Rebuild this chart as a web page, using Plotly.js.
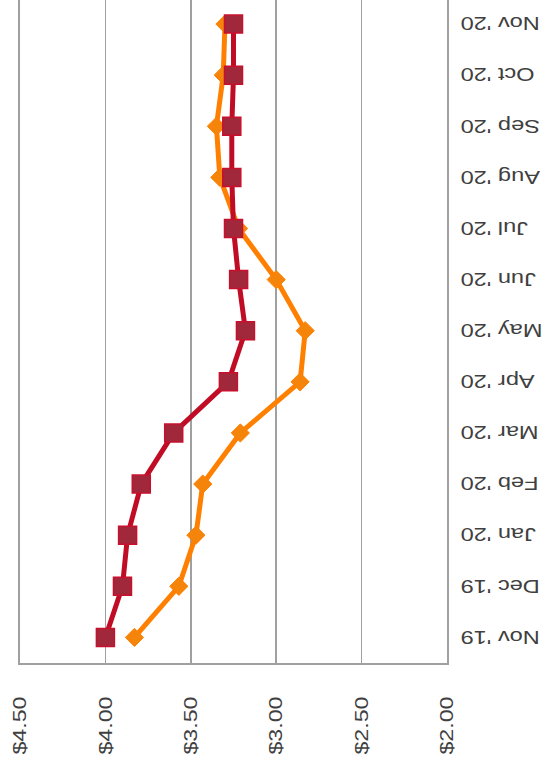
<!DOCTYPE html>
<html>
<head>
<meta charset="utf-8">
<script src="https://cdn.plot.ly/plotly-3.0.1.min.js"></script>
<style>
html, body { margin: 0; padding: 0; background: #fff; }
#chart { width: 543px; height: 765px; }
</style>
</head>
<body>
<div id="chart"></div>
<script>
const months = ["Nov '19", "Dec '19", "Jan '20", "Feb '20", "Mar '20", "Apr '20", "May '20", "Jun '20", "Jul '20", "Aug '20", "Sep '20", "Oct '20", "Nov '20"];
const orangeSeries = [3.83, 3.57, 3.47, 3.43, 3.21, 2.86, 2.83, 3.00, 3.22, 3.33, 3.35, 3.31, 3.30];
const redSeries = [4.00, 3.90, 3.87, 3.79, 3.60, 3.28, 3.18, 3.22, 3.25, 3.26, 3.26, 3.25, 3.25];
const priceTicks = [4.5, 4.0, 3.5, 3.0, 2.5, 2.0];
const priceTickLabels = ["$4.50", "$4.00", "$3.50", "$3.00", "$2.50", "$2.00"];

const traces = [
  {
    type: 'scatter', mode: 'lines+markers',
    x: orangeSeries, y: months,
    line: { color: '#FF8000', width: 5 },
    marker: { symbol: 'diamond', size: 14, color: '#F5850A', line: { color: '#FF8000', width: 1 } },
    showlegend: false, cliponaxis: false
  },
  {
    type: 'scatter', mode: 'lines+markers',
    x: redSeries, y: months,
    line: { color: '#C00D25', width: 5 },
    marker: { symbol: 'square', size: 18, color: '#A0283A', line: { color: '#C8102E', width: 1.5 } },
    showlegend: false, cliponaxis: false
  }
];

const layout = {
  width: 543, height: 765,
  margin: { l: 20, r: 96, t: 0, b: 102 },
  paper_bgcolor: '#fff', plot_bgcolor: '#fff',
  font: { family: 'Liberation Sans, Arial, sans-serif', size: 18, color: '#404040' },
  xaxis: {
    range: [4.5, 2.0],
    tickvals: priceTicks, ticktext: priceTickLabels,
    tickangle: -90,
    showgrid: true, gridcolor: '#a0a0a0', gridwidth: 1.5,
    showline: true, linecolor: '#a0a0a0', linewidth: 2,
    zeroline: false,
    ticks: 'outside', ticklen: 24, tickcolor: 'rgba(0,0,0,0)',
    tickfont: { size: 19, color: '#404040' }
  },
  yaxis: {
    type: 'category', categoryarray: months, categoryorder: 'array',
    range: [-0.5, 12.47],
    side: 'right',
    mirror: true,
    tickangle: 180,
    showgrid: false,
    showline: true, linecolor: '#a0a0a0', linewidth: 2,
    zeroline: false,
    ticks: 'outside', ticklen: 6, tickcolor: 'rgba(0,0,0,0)',
    tickfont: { size: 18, color: '#404040' }
  }
};

function stretchLabels(gd) {
  gd.querySelectorAll('.ytick text').forEach(function (t) {
    const L = t.getComputedTextLength();
    t.setAttribute('text-anchor', 'end');
    t.setAttribute('textLength', (L * 1.31).toFixed(1));
    t.setAttribute('lengthAdjust', 'spacingAndGlyphs');
    t.setAttribute('transform', 'translate(2,5) ' + (t.getAttribute('transform') || ''));
  });
  gd.querySelectorAll('.xtick text').forEach(function (t) {
    const L = t.getComputedTextLength();
    t.setAttribute('textLength', (L * 1.22).toFixed(1));
    t.setAttribute('lengthAdjust', 'spacingAndGlyphs');
  });
}

Plotly.newPlot('chart', traces, layout, { staticPlot: true, displayModeBar: false }).then(stretchLabels);
</script>
</body>
</html>
